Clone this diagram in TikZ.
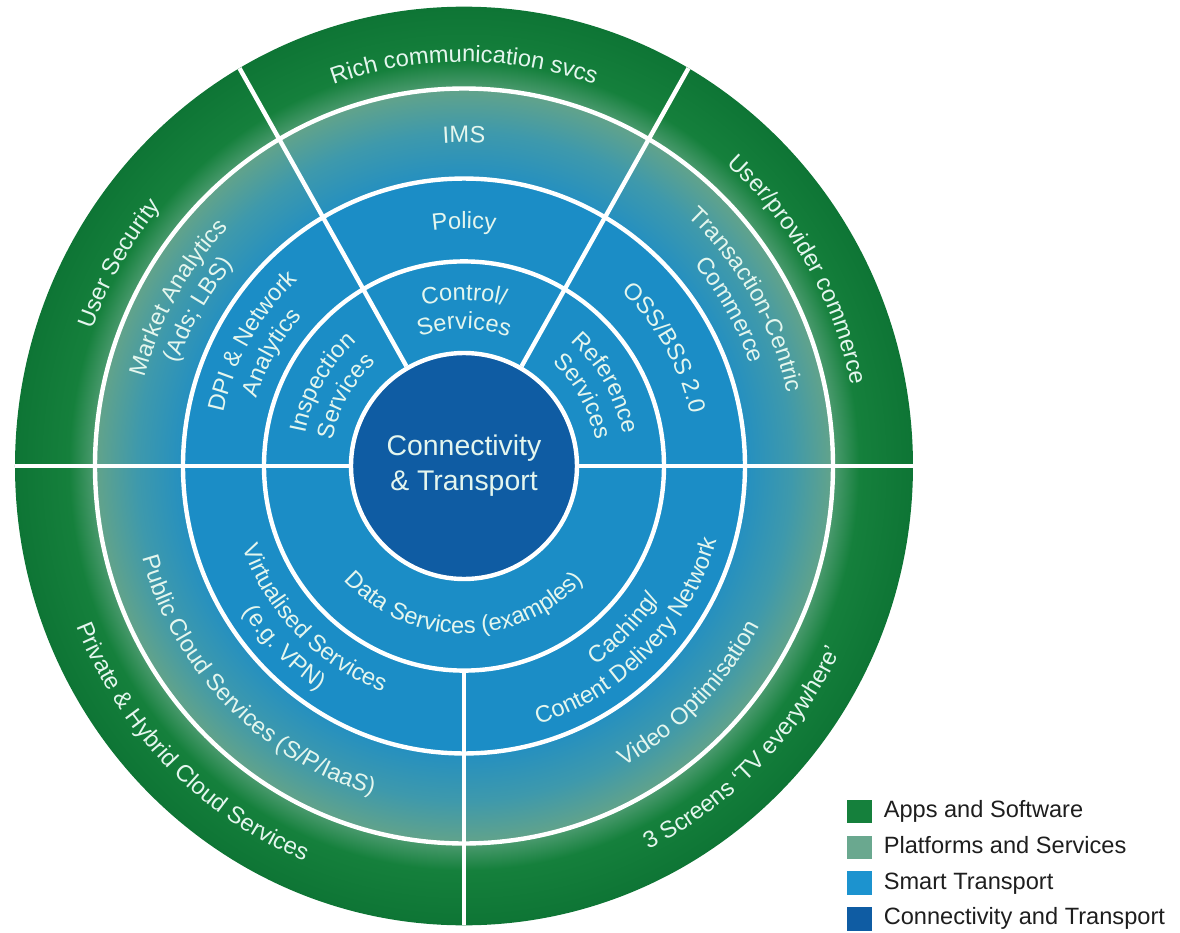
\documentclass[tikz,border=0pt]{standalone}
\usepackage{fontspec}
\setmainfont{Liberation Sans}
\usetikzlibrary{decorations.text, positioning}

\definecolor{appsgreen}{HTML}{15803C}
\definecolor{appsdark}{HTML}{0E7535}
\definecolor{appsglow}{HTML}{4A9A6E}
\definecolor{platgreen}{HTML}{6AA88F}
\definecolor{platedge}{HTML}{62A38A}
\definecolor{platmid}{HTML}{3E99AC}
\definecolor{platinner}{HTML}{2690BF}
\definecolor{smartblue}{HTML}{1B8DC6}
\definecolor{smartlegend}{HTML}{1C93CF}
\definecolor{conblue}{HTML}{0F5CA3}
\definecolor{mint}{HTML}{E4F6EE}
\definecolor{legendtext}{HTML}{1E1E1E}

\newcommand{\ringfont}{\fontsize{11.8}{14}\selectfont}

% 25bp = outer radius (449)
\pgfdeclareradialshading{rings}{\pgfpointorigin}{%
  color(0bp)=(smartblue); color(15.65bp)=(smartblue);
  color(15.8bp)=(platinner); color(18.2bp)=(platmid); color(20.5bp)=(platedge);
  color(20.6bp)=(appsglow); color(22bp)=(appsgreen);
  color(25bp)=(appsdark); color(50bp)=(appsdark)}

\begin{document}
\begin{tikzpicture}[x=0.5pt, y=0.5115pt,
  ringline/.style={white, line width=2.2pt},
  ringtext/.style={decorate, decoration={text along path, text align=center,
      text color=mint, text={|\ringfont|#1}}},
  legbox/.style={minimum width=12.5pt, minimum height=11.75pt, inner sep=0pt},
  legtext/.style={font=\fontsize{11.8}{14}\selectfont, text=legendtext, inner sep=0pt,
      text height=1.6ex, text depth=0.45ex}]

  \useasboundingbox (-232pt,-233.5pt) rectangle (358pt,233pt);

  % Anneaux
  \shade[shading=rings] (0,0) circle[radius=449];
  \draw[ringline] (0,0) circle[radius=200];
  \draw[ringline] (0,0) circle[radius=281];
  \draw[ringline] (0,0) circle[radius=369];

  % Coeur
  \node[circle, fill=conblue, draw=white, line width=2.2pt, minimum size=113pt,
    inner sep=0pt, align=center, text=mint, font=\fontsize{14.2}{17.5}\selectfont]
    (core) at (0,0) {Connectivity\\\& Transport};

  % Separations
  \draw[ringline] (core.180) -- (180:449);
  \draw[ringline] (core.0) -- (0:449);
  \draw[ringline] (core.120) -- (120:449);
  \draw[ringline] (core.60) -- (60:449);
  \draw[ringline] (270:200) -- (270:449);

  % Apps and Software
  \path[ringtext={User Security}] (180:395) arc[start angle=180, end angle=120, radius=395];
  \path[ringtext={Rich communication svcs}] (120:395) arc[start angle=120, end angle=60, radius=395];
  \path[ringtext={User/provider commerce}] (60:395) arc[start angle=60, end angle=0, radius=395];
  \path[ringtext={Private {\&} Hybrid Cloud Services}] (180:418) arc[start angle=180, end angle=270, radius=418];
  \path[ringtext={3 Screens {‘}TV everywhere{’}}] (270:418) arc[start angle=270, end angle=360, radius=418];

  % Platforms and Services
  \path[ringtext={Market Analytics}] (180:331) arc[start angle=180, end angle=120, radius=331];
  \path[ringtext={(Ads; LBS)}] (180:303) arc[start angle=180, end angle=120, radius=303];
  \path[ringtext={IMS}] (120:316) arc[start angle=120, end angle=60, radius=316];
  \path[ringtext={Transaction-Centric}] (60:331) arc[start angle=60, end angle=0, radius=331];
  \path[ringtext={Commerce}] (60:303) arc[start angle=60, end angle=0, radius=303];
  \path[ringtext={Public Cloud Services (S/P/IaaS)}] (180:334) arc[start angle=180, end angle=270, radius=334];
  \path[ringtext={Video Optimisation}] (270:334) arc[start angle=270, end angle=360, radius=334];

  % Smart Transport
  \path[ringtext={DPI {\&} Network}] (180:246) arc[start angle=180, end angle=120, radius=246];
  \path[ringtext={Analytics}] (180:218) arc[start angle=180, end angle=120, radius=218];
  \path[ringtext={Policy}] (120:232) arc[start angle=120, end angle=60, radius=232];
  \path[ringtext={OSS/BSS 2.0}] (60:232) arc[start angle=60, end angle=0, radius=232];
  \path[ringtext={Virtualised Services}] (180:235) arc[start angle=180, end angle=270, radius=235];
  \path[ringtext={(e.g. VPN)}] (180:263) arc[start angle=180, end angle=270, radius=263];
  \path[ringtext={Caching/}] (270:235) arc[start angle=270, end angle=360, radius=235];
  \path[ringtext={Content Delivery Network}] (270:263) arc[start angle=270, end angle=360, radius=263];

  \path[ringtext={Inspection}] (180:162) arc[start angle=180, end angle=120, radius=162];
  \path[ringtext={Services}] (180:134) arc[start angle=180, end angle=120, radius=134];
  \path[ringtext={Control/}] (120:162) arc[start angle=120, end angle=60, radius=162];
  \path[ringtext={Services}] (120:134) arc[start angle=120, end angle=60, radius=134];
  \path[ringtext={Reference}] (60:162) arc[start angle=60, end angle=0, radius=162];
  \path[ringtext={Services}] (60:134) arc[start angle=60, end angle=0, radius=134];
  \path[ringtext={Data Services (examples)}] (180:164) arc[start angle=180, end angle=360, radius=164];

  % Legende
  \node[legbox, fill=appsgreen] (appsbox) at (197.75pt,-172.75pt) {};
  \node[legbox, fill=platgreen, below=5.75pt of appsbox] (platbox) {};
  \node[legbox, fill=smartlegend, below=5.75pt of platbox] (smartbox) {};
  \node[legbox, fill=conblue, below=5.75pt of smartbox] (conbox) {};
  \node[legtext, right=5.5pt of appsbox] (appslabel) {Apps and Software};
  \node[legtext, right=5.5pt of platbox] (platlabel) {Platforms and Services};
  \node[legtext, right=5.5pt of smartbox] (smartlabel) {Smart Transport};
  \node[legtext, right=5.5pt of conbox] (conlabel) {Connectivity and Transport};

\end{tikzpicture}
\end{document}
